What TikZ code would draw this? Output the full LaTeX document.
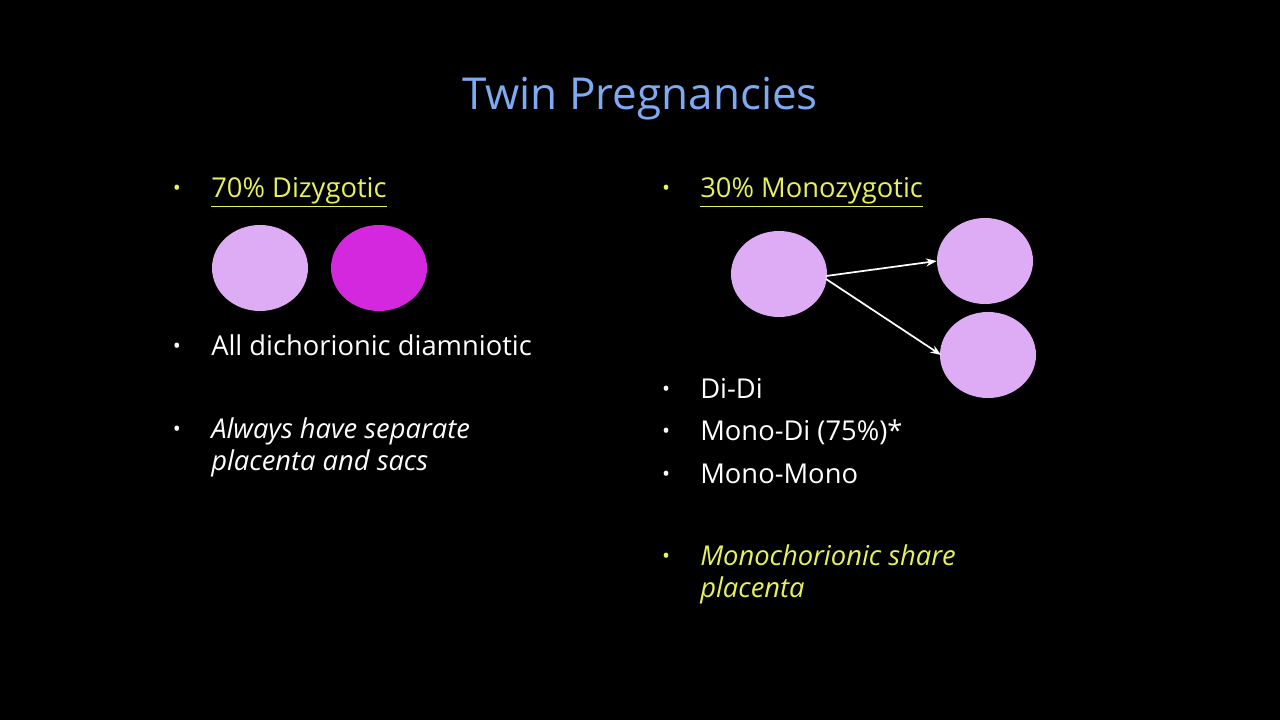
\documentclass[tikz,border=0pt]{standalone}
\usepackage{fontspec}
\setmainfont{Open Sans}
\usetikzlibrary{arrows.meta,shapes.geometric}
\definecolor{ttl}{RGB}{125,170,240}
\definecolor{ylw}{RGB}{232,240,90}
\definecolor{lil}{RGB}{222,172,244}
\definecolor{mag}{RGB}{212,40,222}
\begin{document}
\begin{tikzpicture}[x=0.75pt,y=-0.75pt,
  txt/.style={anchor=base west,inner sep=0pt,font=\fontsize{20.5pt}{25pt}\selectfont,text=white},
  bul/.style={anchor=base,inner sep=0pt,font=\fontsize{16pt}{20pt}\selectfont},
  egg/.style={ellipse,minimum width=72pt,minimum height=64.5pt,fill=#1,inner sep=0pt},
  arr/.style={white,line width=1.3pt,-{Stealth[length=8pt,width=6pt]}}]
\fill[black] (0,0) rectangle (1280,720);
\useasboundingbox (0,0) rectangle (1280,720);
\node[anchor=base,inner sep=0pt,text=ttl,font=\fontsize{33pt}{38pt}\selectfont] (title) at (640,110) {Twin Pregnancies};
% left
\node[bul,text=ylw] (b1) at (177,196) {•};
\node[txt,text=ylw] (t1) at (211,198) {\underline{70\% Dizygotic}};
\node[egg=lil] (d1) at (260,268) {};
\node[egg=mag] (d2) at (379,268) {};
\node[bul,text=white] (b2) at (177,353) {•};
\node[txt] (t2) at (211,355) {All dichorionic diamniotic};
\node[bul,text=white] (b3) at (177,436) {•};
\node[txt] (t3) at (211,438) {\itshape Always have separate};
\node[txt] (t3b) at (211,470) {\itshape placenta and sacs};
% right
\node[bul,text=ylw] (b4) at (666,196) {•};
\node[txt,text=ylw] (t4) at (700,198) {\underline{30\% Monozygotic}};
\node[egg=lil] (e1) at (779,274) {};
\node[egg=lil] (e2) at (985,261) {};
\node[egg=lil] (e3) at (988,355) {};
\coordinate (s1) at (826,276);
\coordinate (s2) at (826,279);
\draw[arr] (s1) -- (e2.west);
\draw[arr] (s2) -- ([xshift=1pt]e3.west);
\node[bul,text=white] (b5) at (666,396) {•};
\node[txt] (t5) at (700,398) {Di-Di};
\node[bul,text=white] (b6) at (666,438) {•};
\node[txt] (t6) at (700,440) {Mono-Di (75\%)*};
\node[bul,text=white] (b7) at (666,481) {•};
\node[txt] (t7) at (700,483) {Mono-Mono};
\node[bul,text=ylw] (b8) at (666,563) {•};
\node[txt,text=ylw] (t8) at (700,565) {\itshape Monochorionic share};
\node[txt,text=ylw] (t8b) at (700,597) {\itshape placenta};
\end{tikzpicture}
\end{document}
